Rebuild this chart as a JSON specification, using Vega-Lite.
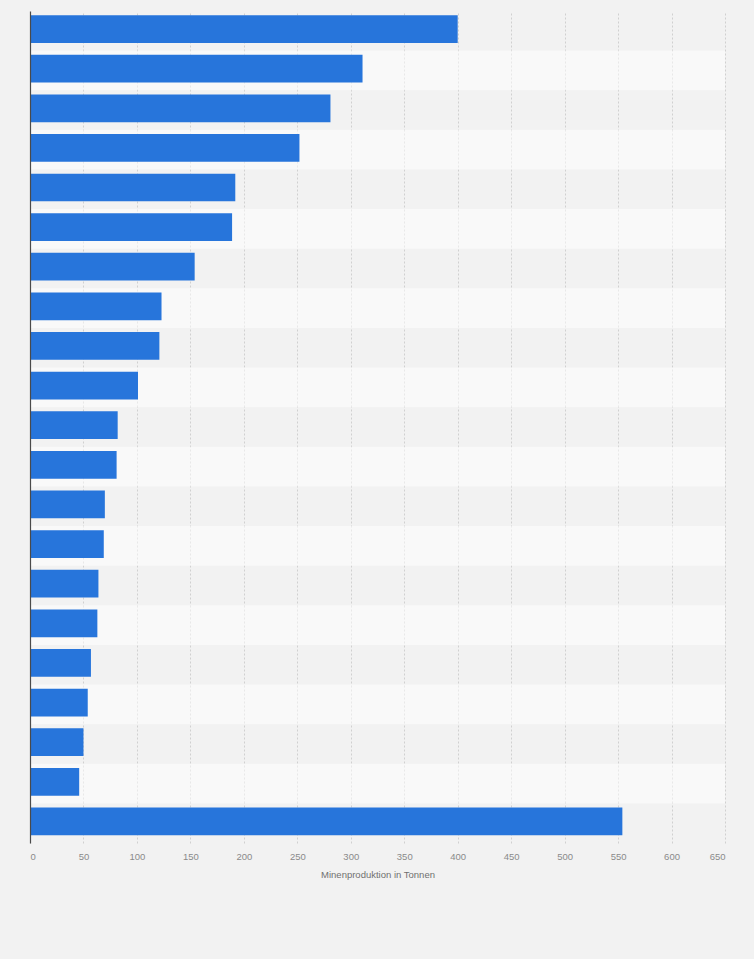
{
  "$schema": "https://vega.github.io/schema/vega-lite/v6.json",
  "width": 695,
  "height": 832,
  "autosize": {"type": "none"},
  "padding": {"left": 30, "top": 11, "right": 29, "bottom": 116},
  "background": "#f2f2f2",
  "data": {
    "values": [
      {"rang": "Rang 1", "tonnen": 400},
      {"rang": "Rang 2", "tonnen": 311},
      {"rang": "Rang 3", "tonnen": 281},
      {"rang": "Rang 4", "tonnen": 252},
      {"rang": "Rang 5", "tonnen": 192},
      {"rang": "Rang 6", "tonnen": 189},
      {"rang": "Rang 7", "tonnen": 154},
      {"rang": "Rang 8", "tonnen": 123},
      {"rang": "Rang 9", "tonnen": 121},
      {"rang": "Rang 10", "tonnen": 101},
      {"rang": "Rang 11", "tonnen": 82},
      {"rang": "Rang 12", "tonnen": 81},
      {"rang": "Rang 13", "tonnen": 70},
      {"rang": "Rang 14", "tonnen": 69},
      {"rang": "Rang 15", "tonnen": 64},
      {"rang": "Rang 16", "tonnen": 63},
      {"rang": "Rang 17", "tonnen": 57},
      {"rang": "Rang 18", "tonnen": 54},
      {"rang": "Rang 19", "tonnen": 50},
      {"rang": "Rang 20", "tonnen": 46},
      {"rang": "Sonstige", "tonnen": 554}
    ]
  },
  "transform": [
    {"window": [{"op": "row_number", "as": "nr"}]}
  ],
  "layer": [
    {
      "mark": {"type": "rect", "color": "white"},
      "encoding": {
        "y": {
          "field": "rang",
          "type": "nominal",
          "sort": null,
          "scale": {"paddingInner": 0, "paddingOuter": 0},
          "axis": {
            "orient": "left",
            "labels": false,
            "ticks": false,
            "title": null,
            "domain": true,
            "domainColor": "#4a4a4a",
            "domainWidth": 1.2
          }
        },
        "x": {"datum": 0, "type": "quantitative"},
        "x2": {"datum": 650},
        "opacity": {
          "condition": {"test": "datum.nr % 2 === 0", "value": 0.5},
          "value": 0
        }
      }
    },
    {
      "mark": {"type": "bar", "color": "#2775db"},
      "encoding": {
        "y": {
          "field": "rang",
          "type": "nominal",
          "sort": null,
          "scale": {"paddingInner": 0.3, "paddingOuter": 0.15, "align": 0.35},
          "axis": null
        },
        "x": {
          "field": "tonnen",
          "type": "quantitative",
          "scale": {"domain": [0, 650], "nice": false},
          "axis": {
            "values": [0, 50, 100, 150, 200, 250, 300, 350, 400, 450, 500, 550, 600, 650],
            "title": "Minenproduktion in Tonnen",
            "domain": false,
            "ticks": false,
            "grid": true,
            "gridColor": "#d0d0d0",
            "gridDash": [2, 2],
            "gridWidth": 1,
            "labelPadding": 8,
            "labelFontSize": 9.5,
            "labelColor": "#8a8a8a",
            "labelFont": "Liberation Sans",
            "titleFont": "Liberation Sans",
            "titleFontSize": 9.5,
            "titleFontWeight": "normal",
            "titleColor": "#707070",
            "titlePadding": 9
          }
        }
      }
    }
  ],
  "resolve": {"scale": {"y": "independent"}, "axis": {"y": "independent"}},
  "config": {
    "view": {"stroke": null},
    "font": "Liberation Sans"
  }
}
